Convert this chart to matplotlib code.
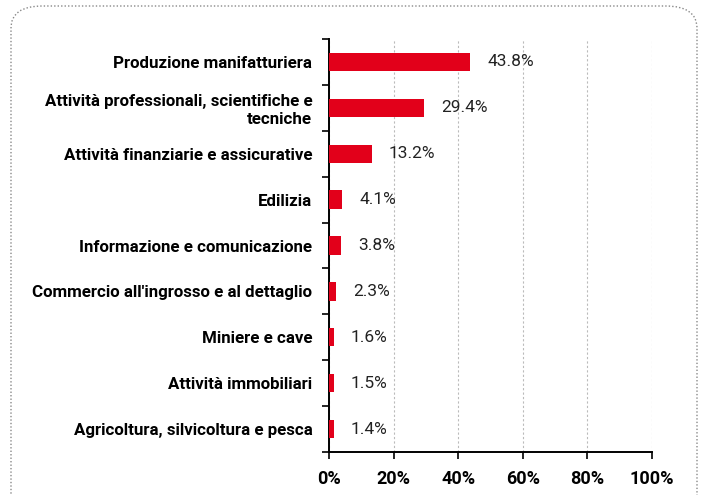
import matplotlib.pyplot as plt
from matplotlib.patches import FancyBboxPatch
import numpy as np

categories = [
    "Produzione manifatturiera",
    "Attività professionali, scientifiche e\ntecniche",
    "Attività finanziarie e assicurative",
    "Edilizia",
    "Informazione e comunicazione",
    "Commercio all'ingrosso e al dettaglio",
    "Miniere e cave",
    "Attività immobiliari",
    "Agricoltura, silvicoltura e pesca",
]
values = [43.8, 29.4, 13.2, 4.1, 3.8, 2.3, 1.6, 1.5, 1.4]
xticks = [0, 20, 40, 60, 80, 100]

RED = "#E2001A"

plt.rcParams["font.family"] = ["Roboto", "DejaVu Sans"]

fig = plt.figure(figsize=(7.01, 4.95), dpi=100)
ax = fig.add_axes([329 / 701, 1 - 452 / 495, (652 - 329) / 701, (452 - 39) / 495])

y = np.arange(len(categories))
ax.barh(y, values, height=0.4, color=RED, zorder=3)
for yi, v in zip(y, values):
    ax.text(v + 5.2, yi, f"{v:.1f}%", va="center", ha="left", fontsize=12.5, color="#222222")

ax.set_ylim(len(categories) - 0.5, -0.5)
ax.set_xlim(0, 100)
ax.set_xticks(xticks)
ax.set_xticklabels([f"{t}%" for t in xticks], fontsize=13, fontweight="bold")
ax.set_yticks(y)
ax.set_yticklabels(categories, fontsize=12.2, fontweight="bold", linespacing=1.2)
ax.set_yticks(np.arange(len(categories) + 1) - 0.5, minor=True)
ax.tick_params(axis="y", which="major", length=0, pad=12)
ax.tick_params(axis="y", which="minor", length=5, width=1.2, direction="out")
ax.tick_params(axis="x", length=5, width=1.2, direction="out", pad=8)
ax.grid(axis="x", linestyle=(0, (2, 2)), color="#BBBBBB", linewidth=0.8, zorder=0)
for s in ["top", "right"]:
    ax.spines[s].set_visible(False)
ax.spines["left"].set_linewidth(1.4)
ax.spines["bottom"].set_linewidth(1.4)

border = FancyBboxPatch(
    (11 / 701, -0.05), 686 / 701, 1 - 6 / 495 + 0.05,
    boxstyle="round,pad=0,rounding_size=0.045",
    transform=fig.transFigure, fill=False, edgecolor="#888888",
    linestyle=(0, (1, 1.5)), linewidth=1.0, clip_on=False,
)
fig.patches.append(border)

fig.savefig("out.png", dpi=100)
